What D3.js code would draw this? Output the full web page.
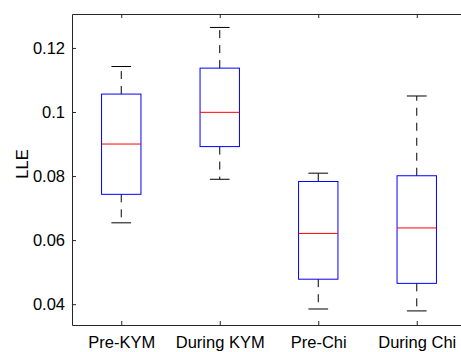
<!DOCTYPE html>
<html>
  <head>
	<meta charset="UTF-8">
    <title>boxplot-LLE</title>
	<script type="text/javascript" src="https://cdn.jsdelivr.net/npm/d3@7"></script>
	<style>
		body { margin: 0; background: #fff; }
		text { font-family: "Liberation Sans", Arial, sans-serif; }
	</style>
  </head>
  
  <body>
    <svg width="461" height="352"></svg>
    <script>
    	// data
    	var categories = ["Pre-KYM", "During KYM", "Pre-Chi", "During Chi"];
    	var whiskerLow = [0.0654, 0.0790, 0.0385, 0.0379];
    	var q1 = [0.0743, 0.0892, 0.0478, 0.0465];
    	var median = [0.0900, 0.0999, 0.0621, 0.0638];
    	var q3 = [0.1056, 0.1137, 0.0783, 0.0801];
    	var whiskerHigh = [0.1142, 0.1264, 0.0809, 0.1050];
    	var yTicks = [0.04, 0.06, 0.08, 0.1, 0.12];
    	var yTickLabels = ["0.04", "0.06", "0.08", "0.1", "0.12"];
    	var yLabel = "LLE";

    	var svg = d3.select("svg");
    	var marge = {top: 14, bottom: 27, left: 72};
    	var height = +svg.attr("height");
    	var plotRight = 466;   // axes run past the right edge of the picture
    	var fontSize = "16.5px";

    	var x = d3.scaleLinear()
    		.domain([0.5, categories.length + 0.5])
    		.range([marge.left, plotRight]);
    	var y = d3.scaleLinear()
    		.domain([0.0335, 0.1306])
    		.range([height - marge.bottom, marge.top]);

    	var step = x(2) - x(1);
    	var boxW = step * 0.4;
    	var capW = step * 0.2;

    	var boxes = categories.map(function(c, i){
    		return {i: i + 1, lo: whiskerLow[i], q1: q1[i], med: median[i], q3: q3[i], hi: whiskerHigh[i]};
    	});

    	var g = svg.append("g");

    	// whiskers
    	var gs = g.selectAll(".box")
    		.data(boxes)
    		.enter()
    		.append("g")
    		.attr("class", "box");

    	gs.append("line")
    		.attr("x1", function(d){ return x(d.i); })
    		.attr("x2", function(d){ return x(d.i); })
    		.attr("y1", function(d){ return y(d.q3); })
    		.attr("y2", function(d){ return y(d.hi); })
    		.attr("stroke", "#000")
    		.attr("stroke-dasharray", "8,7");
    	gs.append("line")
    		.attr("x1", function(d){ return x(d.i); })
    		.attr("x2", function(d){ return x(d.i); })
    		.attr("y1", function(d){ return y(d.q1); })
    		.attr("y2", function(d){ return y(d.lo); })
    		.attr("stroke", "#000")
    		.attr("stroke-dasharray", "8,7");

    	// caps
    	gs.append("line")
    		.attr("x1", function(d){ return x(d.i) - capW / 2; })
    		.attr("x2", function(d){ return x(d.i) + capW / 2; })
    		.attr("y1", function(d){ return y(d.hi); })
    		.attr("y2", function(d){ return y(d.hi); })
    		.attr("stroke", "#000");
    	gs.append("line")
    		.attr("x1", function(d){ return x(d.i) - capW / 2; })
    		.attr("x2", function(d){ return x(d.i) + capW / 2; })
    		.attr("y1", function(d){ return y(d.lo); })
    		.attr("y2", function(d){ return y(d.lo); })
    		.attr("stroke", "#000");

    	// box
    	gs.append("rect")
    		.attr("x", function(d){ return x(d.i) - boxW / 2; })
    		.attr("y", function(d){ return y(d.q3); })
    		.attr("width", boxW)
    		.attr("height", function(d){ return y(d.q1) - y(d.q3); })
    		.attr("fill", "none")
    		.attr("stroke", "#0000ff");

    	// median
    	gs.append("line")
    		.attr("x1", function(d){ return x(d.i) - boxW / 2; })
    		.attr("x2", function(d){ return x(d.i) + boxW / 2; })
    		.attr("y1", function(d){ return y(d.med); })
    		.attr("y2", function(d){ return y(d.med); })
    		.attr("stroke", "#ff0000");

    	// axes, ticks pointing inward like matlab
    	var axisColor = "#262626";
    	var xAxis = d3.axisBottom(x)
    		.tickValues(d3.range(1, categories.length + 1))
    		.tickFormat(function(d){ return categories[d - 1]; })
    		.tickSizeInner(-4)
    		.tickSizeOuter(0)
    		.tickPadding(11);
    	var yAxis = d3.axisLeft(y)
    		.tickValues(yTicks)
    		.tickFormat(function(d, i){ return yTickLabels[i]; })
    		.tickSizeInner(-4)
    		.tickSizeOuter(0)
    		.tickPadding(7);
    	var xTop = d3.axisTop(x)
    		.tickValues(d3.range(1, categories.length + 1))
    		.tickFormat("")
    		.tickSizeInner(-4)
    		.tickSizeOuter(0);
    	var yRight = d3.axisRight(y)
    		.tickValues(yTicks)
    		.tickFormat("")
    		.tickSizeInner(-4)
    		.tickSizeOuter(0);

    	var axes = [
    		svg.append("g").attr("transform", "translate(0," + y.range()[0] + ")").call(xAxis),
    		svg.append("g").attr("transform", "translate(" + marge.left + ",0)").call(yAxis),
    		svg.append("g").attr("transform", "translate(0," + y.range()[1] + ")").call(xTop),
    		svg.append("g").attr("transform", "translate(" + plotRight + ",0)").call(yRight)
    	];
    	axes.forEach(function(a){
    		a.selectAll("path, line").attr("stroke", axisColor);
    		a.selectAll("text")
    			.attr("fill", "#000")
    			.style("font-size", fontSize)
    			.style("font-family", "'Liberation Sans', Arial, sans-serif");
    	});

    	// y label
    	svg.append("text")
    		.attr("transform", "translate(28,164) rotate(-90)")
    		.attr("text-anchor", "middle")
    		.style("font-size", fontSize)
    		.text(yLabel);
    </script>
  </body>
</html>
